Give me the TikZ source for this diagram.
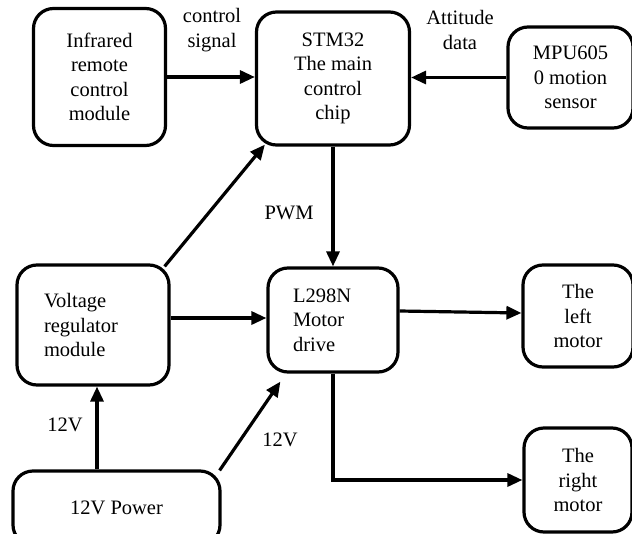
\documentclass[tikz,border=0pt]{standalone}
\usepackage{fontspec}
\setmainfont{Liberation Serif}
\usetikzlibrary{arrows.meta}
\begin{document}
\begin{tikzpicture}[x=1pt,y=1pt,
  box/.style={draw=black,line width=3.2pt,rounded corners=20pt,inner sep=0pt,
    font=\fontsize{20.5}{24.5}\selectfont},
  arr/.style={line width=3.2pt,-{Triangle[length=15pt,width=13pt]}},
  lbl/.style={font=\fontsize{20.5}{24.5}\selectfont,align=center,inner sep=0pt}]
\useasboundingbox (0,0) rectangle (632,-533);
\node[box,minimum width=132pt,minimum height=137pt,align=center] (ir) at (99.5,-77)
  {Infrared\\remote\\control\\module};
\node[box,minimum width=153pt,minimum height=133pt,align=center] (stm) at (333,-78.5)
  {STM32\\The main\\control\\chip};
\node[box,minimum width=125pt,minimum height=101pt,align=center] (mpu) at (570.5,-77.5)
  {MPU605\\0 motion\\sensor};
\node[box,minimum width=152pt,minimum height=120pt,text width=98pt,align=left] (volt) at (93,-325)
  {\raisebox{-8pt}{\parbox{98pt}{Voltage\\regulator\\module}}};
\node[box,minimum width=130pt,minimum height=104pt,text width=80pt,align=left] (drv) at (333,-320)
  {\raisebox{-3pt}{\parbox{80pt}{L298N\\Motor\\drive}}};
\node[box,minimum width=110pt,minimum height=102pt,align=center] (lm) at (578,-316)
  {The\\left\\motor};
\node[box,minimum width=108pt,minimum height=104pt,align=center] (rm) at (578,-480)
  {The\\right\\motor};
\node[box,minimum width=207pt,minimum height=74pt,align=center] (pw) at (116.5,-508)
  {\raisebox{-4pt}{12V Power}};
\draw[arr] (ir.east) -- (ir.east -| stm.west);
\draw[arr] (mpu.west) -- (mpu.west -| stm.east);
\draw[arr] (stm.south) -- (drv.north);
\draw[arr] ([shift={(-6pt,-3pt)}]volt.north east) -- ([shift={(10pt,2pt)}]stm.south west);
\draw[arr] ([yshift=7pt]volt.east) -- ([yshift=7pt]volt.east -| drv.west);
\draw[arr] ([xshift=4pt]volt.south |- pw.north) -- ([xshift=4pt]volt.south);
\draw[arr] ([shift={(-2pt,-1pt)}]pw.north east) -- ([shift={(14pt,-8pt)}]drv.south west);
\draw[arr] ([yshift=9pt]drv.east) -- ([yshift=3pt]lm.west);
\draw[arr] (drv.south) |- (rm.west);
\node[lbl] (cs) at (212,-30) {control\\signal};
\node[lbl] (ad) at (460,-30) {Attitude\\data};
\node[lbl] (pwm) at (289,-213) {PWM};
\node[lbl] (v1) at (65,-425) {12V};
\node[lbl] (v2) at (280,-440) {12V};
\end{tikzpicture}
\end{document}
